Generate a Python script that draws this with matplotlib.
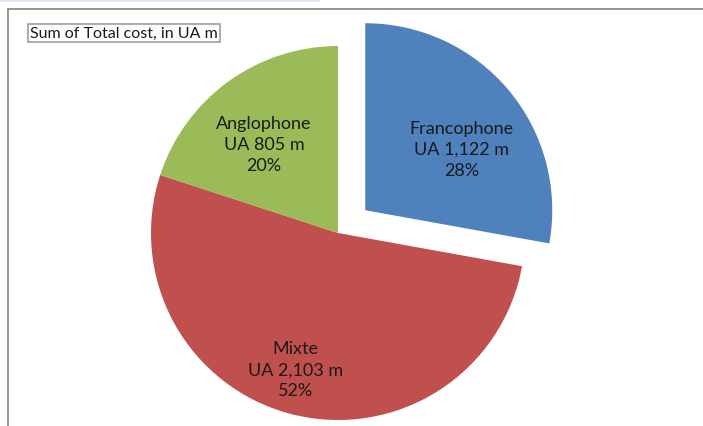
import numpy as np
import matplotlib
matplotlib.use("Agg")
import matplotlib.pyplot as plt
from matplotlib.patches import Rectangle

categories = ["Francophone", "Mixte", "Anglophone"]
values = [1122, 2103, 805]
value_labels = ["UA 1,122 m", "UA 2,103 m", "UA 805 m"]
colors = ["#4F81BD", "#C0504D", "#9BBB59"]
explode = [0.19, 0, 0]
label_dist = [0.61, 0.763, 0.62]
label_ang_shift = [-7.4, -3.1, 3.7]
title = "Sum of Total cost, in UA m"

W, H = 703, 427
fig = plt.figure(figsize=(W / 100, H / 100), dpi=100)
fig.patch.set_facecolor("white")
ax = fig.add_axes([0, 0, 1, 1])

cx, cy, r = 338, H - 234, 187
wedges, _ = ax.pie(values, colors=colors, explode=[e * r for e in explode],
                   startangle=90, counterclock=False, radius=r, center=(cx, cy),
                   wedgeprops=dict(linewidth=0), frame=True)
ax.set_xlim(0, W)
ax.set_ylim(0, H)
ax.set_aspect("equal")
ax.axis("off")

total = sum(values)
for w, cat, vl, v, ld, sh in zip(wedges, categories, value_labels, values,
                                 label_dist, label_ang_shift):
    ang = np.deg2rad((w.theta1 + w.theta2) / 2 + sh)
    x0, y0 = w.center
    tx = x0 + ld * r * np.cos(ang)
    ty = y0 + ld * r * np.sin(ang)
    pct = round(100 * v / total)
    ax.text(tx, ty, f"{cat}\n{vl}\n{pct}%", ha="center", va="center",
            fontsize=13, family="Lato", linespacing=1.38, color="#1a1a1a")

# decorations
fig.add_artist(Rectangle((0, 1 - 3 / H), 320 / W, 3 / H, transform=fig.transFigure,
                         color="#dce6f2", lw=0))
fig.add_artist(plt.Line2D([8 / W, 1], [1 - 10 / H, 1 - 10 / H], transform=fig.transFigure,
                          color="#8c8c8c", lw=1.3))
fig.add_artist(plt.Line2D([8 / W, 8 / W], [0, 1 - 10 / H], transform=fig.transFigure,
                          color="#8c8c8c", lw=1.3))
fig.text(30 / W, 1 - 34 / H, title, ha="left", va="center", fontsize=11.5,
         family="Lato", color="#1a1a1a",
         bbox=dict(boxstyle="square,pad=0.15", fc="white", ec="#a0a0a0", lw=1.2))

fig.savefig("out.png", dpi=100)
